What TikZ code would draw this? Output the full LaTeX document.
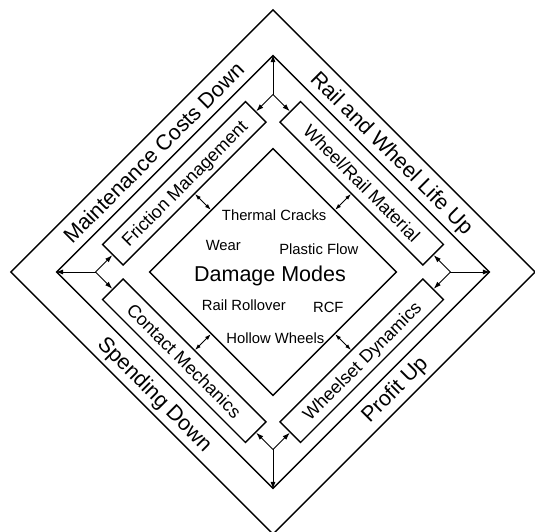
\documentclass[tikz,border=0pt]{standalone}
\usepackage{fontspec}
\setmainfont{Liberation Sans}
\usetikzlibrary{arrows.meta}
\begin{document}
\begin{tikzpicture}[x=1pt,y=1pt,
  frame/.style={draw, line width=1.4pt, inner sep=0pt, minimum size=#1},
  boxnode/.style={draw, line width=1.4pt, minimum width=202, minimum height=29, inner sep=0pt,
    font=\fontsize{18}{20}\selectfont, text height=12.9pt, text depth=0pt},
  bandtext/.style={inner sep=0pt, font=\fontsize{21.5}{24}\selectfont, text height=15.4pt, text depth=0pt},
  dmtext/.style={inner sep=0pt, anchor=base, font=\fontsize{14.8}{17}\selectfont},
  feed/.style={line width=0.9pt, -{Latex[length=7.5pt,width=5pt]}},
  link/.style={line width=0.9pt, {Latex[length=6pt,width=4pt]}-{Latex[length=6pt,width=4pt]}}
]
\useasboundingbox (0,0) rectangle (535,-532);
\begin{scope}[shift={(273,-272)}, rotate=45, transform shape]
  \node[frame=370.6] (outer) at (0,0) {};
  \node[frame=306] (middle) at (0,0) {};
  \node[frame=174.4] (inner) at (0,0) {};
  % boxes
  \node[boxnode] (fric) at (0,125.5) {Friction Management};
  \node[boxnode, rotate=-90] (wrm) at (125.5,0) {Wheel/Rail Material};
  \node[boxnode, rotate=-90] (cm) at (-125.5,0) {Contact Mechanics};
  \node[boxnode] (wsd) at (0,-125.5) {Wheelset Dynamics};
  % band texts
  \node[bandtext] (mcd) at (0,169) {Maintenance Costs Down};
  \node[bandtext, rotate=-90] (rwl) at (169,0) {Rail and Wheel Life Up};
  \node[bandtext, rotate=-90] (sd) at (-169,-3) {Spending Down};
  \node[bandtext] (pu) at (3,-168) {Profit Up};
  % junctions
  \coordinate (jt) at (125.5,125.5);
  \coordinate (jr) at (125.5,-125.5);
  \coordinate (jb) at (-125.5,-125.5);
  \coordinate (jl) at (-125.5,125.5);
\end{scope}
% feedback arrows
\draw[feed] (jt) -- (fric.east);
\draw[feed] (jt) -- (wrm.west);
\draw[feed] (jt) -- (middle.north east);
\draw[feed] (jr) -- (wrm.east);
\draw[feed] (jr) -- (wsd.east);
\draw[feed] (jr) -- (middle.south east);
\draw[feed] (jb) -- (wsd.west);
\draw[feed] (jb) -- (cm.east);
\draw[feed] (jb) -- (middle.south west);
\draw[feed] (jl) -- (cm.west);
\draw[feed] (jl) -- (fric.west);
\draw[feed] (jl) -- (middle.north west);
% links to damage modes
\draw[link] (fric.south) -- (inner.north);
\draw[link] (wrm.south) -- (inner.east);
\draw[link] (cm.north) -- (inner.west);
\draw[link] (wsd.north) -- (inner.south);
% damage mode texts
\node[inner sep=0pt, anchor=base, font=\fontsize{21.5}{24}\selectfont] (dm) at (270,-281) {Damage Modes};
\node[dmtext] (tc) at (274.2,-220) {Thermal Cracks};
\node[dmtext] (wear) at (223.3,-250.7) {Wear};
\node[dmtext] (pf) at (318.8,-254) {Plastic Flow};
\node[dmtext] (rr) at (243.8,-310.7) {Rail Rollover};
\node[dmtext] (rcf) at (328.3,-312.7) {RCF};
\node[dmtext] (hw) at (275.3,-343.3) {Hollow Wheels};
\end{tikzpicture}
\end{document}
